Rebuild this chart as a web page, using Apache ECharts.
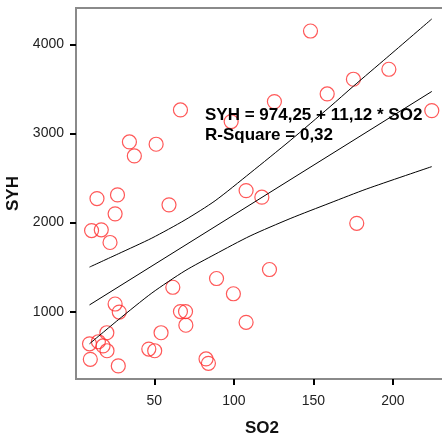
<!DOCTYPE html>
<html>
<head>
<meta charset="utf-8">
<script src="https://cdn.jsdelivr.net/npm/echarts@6/dist/echarts.min.js"></script>
<style>html,body{margin:0;padding:0;background:#fff;overflow:hidden}#c{width:442px;height:440px}</style>
</head>
<body>
<div id="c"></div>
<script>
const so2 = [66.4,34.3,37.4,51.1,13.9,26.8,25.3,59.2,148.2,197.5,175.2,158.7,125.5,98.3,224.5,107.7,117.6,177.3,10.5,16.6,22.1,61.6,25.3,27.9,89.1,66.4,69.6,69.8,20.1,54.2,9.2,14.8,17.7,20.2,9.7,27.3,46.5,50.2,82.5,84.0,122.4,99.7,107.7];
const syh = [3264,2905,2748,2879,2270,2311,2098,2199,4149,3720,3608,3443,3357,3133,3256,2359,2285,1992,1911,1919,1777,1275,1087,997,1373,1002,1002,849,765,765,641,664,617,563,467,393,582,563,471,422,1474,1202,882];
// Fit line and confidence band points
const fitX = [9.2, 224.5];
const fitY = [1077, 3471];
const upperX = [9.2, 27.3, 48.4, 69.3, 88.2, 110.2, 135.4, 160.5, 175.2, 196.2, 224.5];
const upperY = [1501, 1650, 1826, 2030, 2245, 2555, 2920, 3300, 3530, 3850, 4284];
const lowerX = [9.2, 27.3, 48.4, 69.3, 88.2, 110.2, 135.4, 160.5, 183.6, 224.5];
const lowerY = [641, 910, 1210, 1460, 1645, 1850, 2045, 2220, 2378, 2628];
const xTicks = [50, 100, 150, 200];
const yTicks = [1000, 2000, 3000, 4000];
const eqText = 'SYH = 974,25 + 11,12 * SO2';
const r2Text = 'R-Square = 0,32';

const pairs = (xs, ys) => xs.map((x, i) => [x, ys[i]]);

const chart = echarts.init(document.getElementById('c'), null, {renderer: 'canvas'});
const font = 'Arial, "Liberation Sans", sans-serif';
chart.setOption({
  animation: false,
  backgroundColor: '#fff',
  grid: {
    left: 76, top: 8, width: 372, height: 371,
    outerBoundsMode: 'none', containLabel: false,
    show: true, borderColor: '#8a8a8a', borderWidth: 2, backgroundColor: 'transparent'
  },
  xAxis: {
    type: 'value', min: 0.7, max: 234.7,
    name: 'SO2', nameLocation: 'middle', nameGap: 41,
    nameTextStyle: {fontFamily: font, fontWeight: 'bold', fontSize: 17, color: '#111'},
    axisLine: {show: false},
    axisTick: {show: true, inside: false, customValues: xTicks, length: 6, lineStyle: {color: '#000', width: 2}},
    axisLabel: {customValues: xTicks, margin: 15, fontFamily: font, fontSize: 14, color: '#222',
      formatter: v => String(v)},
    splitLine: {show: false}
  },
  yAxis: {
    type: 'value', min: 246, max: 4407,
    name: 'SYH', nameLocation: 'middle', nameGap: 50, nameRotate: 90,
    nameTextStyle: {fontFamily: font, fontWeight: 'bold', fontSize: 17, color: '#111'},
    axisLine: {show: false},
    axisTick: {show: true, inside: false, customValues: yTicks, length: 6, lineStyle: {color: '#000', width: 2}},
    axisLabel: {customValues: yTicks, margin: 12, fontFamily: font, fontSize: 14, color: '#222',
      formatter: v => String(v)},
    splitLine: {show: false}
  },
  series: [
    {
      type: 'scatter', data: pairs(so2, syh), symbol: 'circle', symbolSize: 14,
      itemStyle: {color: 'rgba(0,0,0,0)', borderColor: '#ff2e2e', borderWidth: 1.2},
      z: 2
    },
    {type: 'line', data: pairs(fitX, fitY), showSymbol: false, symbol: 'none',
      lineStyle: {color: '#000', width: 1}, z: 3},
    {type: 'line', data: pairs(upperX, upperY), showSymbol: false, symbol: 'none', smooth: 0.25,
      lineStyle: {color: '#000', width: 1}, z: 3},
    {type: 'line', data: pairs(lowerX, lowerY), showSymbol: false, symbol: 'none', smooth: 0.25,
      lineStyle: {color: '#000', width: 1}, z: 3}
  ],
  graphic: [
    {type: 'text', left: 205, top: 107, z: 10,
      style: {text: eqText, font: 'bold 17px ' + font, fill: '#000'}},
    {type: 'text', left: 205, top: 127, z: 10,
      style: {text: r2Text, font: 'bold 17px ' + font, fill: '#000'}}
  ]
});
</script>
</body>
</html>
